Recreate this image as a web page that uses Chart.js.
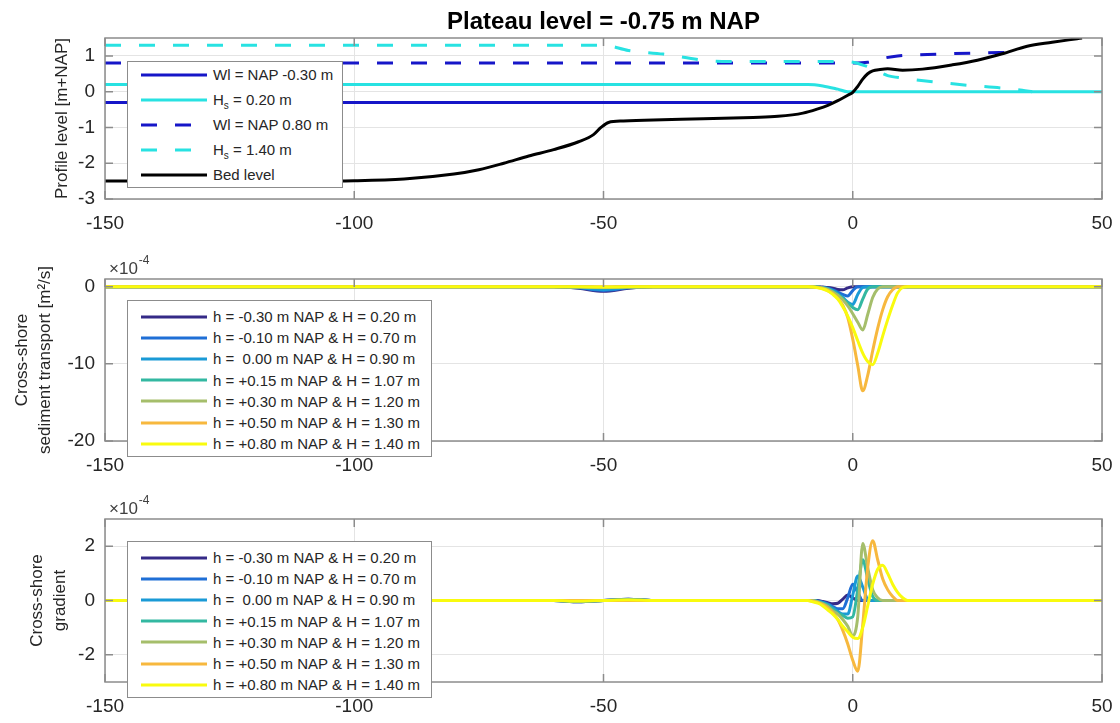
<!DOCTYPE html>
<html>
<head>
<meta charset="utf-8">
<title>Plateau level profile</title>
<script src="https://cdn.jsdelivr.net/npm/chart.js@4.4.1/dist/chart.umd.min.js"></script>
<style>
  body { margin: 0; background: #fff; font-family: "Liberation Sans", Arial, sans-serif; }
  #wrap { position: relative; width: 1120px; height: 723px; overflow: hidden; }
  canvas { position: absolute; left: 0; }
  .legend { position: absolute; left: 127px; background: #fff; border: 1px solid #8c8c8c; box-sizing: border-box; color: #262626; font-size: 15px; }
  .legend .row { display: flex; align-items: center; white-space: pre; }
  .legend svg { margin-left: 13px; margin-right: 6px; flex: none; }
  .legend sub { font-size: 10px; vertical-align: -4px; line-height: 0; }
</style>
</head>
<body>
<div id="wrap">
  <canvas id="profile" width="1120" height="235" style="top:0"></canvas>
  <canvas id="transport" width="1120" height="240" style="top:235px"></canvas>
  <canvas id="gradient" width="1120" height="248" style="top:475px"></canvas>
  <div class="legend" id="leg1" style="top:61px;width:216px;height:127px"></div>
  <div class="legend" id="leg2" style="top:300px;width:305px;height:157px;padding-top:5px"></div>
  <div class="legend" id="leg3" style="top:541px;width:305px;height:157px;padding-top:5px"></div>
</div>
<script>
// x axis, shared by the three panels
const xTicks = [-150, -100, -50, 0, 50];

// panel 1: profile and water levels
const profileTicks = [-3, -2, -1, 0, 1];
const profileLabels = ['Wl = NAP -0.30 m', 'Hs = 0.20 m', 'Wl = NAP 0.80 m', 'Hs = 1.40 m', 'Bed level'];
const wlLowX = [-150, -4.2];
const wlLowY = [-0.3, -0.3];
const hsLowX = [-150, -9, -6, -3, -1, 50];
const hsLowY = [0.2, 0.2, 0.16, 0.07, 0, 0];
const wlHighX = [-150, 0, 3, 6, 9, 15, 25, 31.5];
const wlHighY = [0.8, 0.8, 0.82, 0.93, 1.0, 1.04, 1.08, 1.1];
const hsHighX = [-150, -50, -45, -38, -30, -25, -1, 3, 7, 10, 16, 23, 30, 34, 36];
const hsHighY = [1.3, 1.3, 1.15, 1.05, 0.88, 0.84, 0.84, 0.7, 0.45, 0.38, 0.28, 0.18, 0.1, 0.04, 0];
const bedX = [-150, -110, -100, -90, -80, -75, -70, -65, -60, -55, -52, -50.5, -49, -46, -40, -30, -20, -15, -10, -7, -5, -3, -1, 0, 1, 2, 3, 4, 5.5, 7, 10, 14, 20, 25, 30, 35, 40, 45, 46];
const bedY = [-2.5, -2.5, -2.49, -2.44, -2.3, -2.18, -2.0, -1.8, -1.62, -1.4, -1.2, -1.0, -0.86, -0.82, -0.79, -0.76, -0.72, -0.69, -0.6, -0.48, -0.38, -0.25, -0.1, -0.02, 0.15, 0.35, 0.5, 0.58, 0.62, 0.64, 0.6, 0.63, 0.75, 0.88, 1.06, 1.27, 1.38, 1.48, 1.5];

// panels 2 and 3: one run per water level / wave height (values x 1e-4)
const runLabels = [
  'h = -0.30 m NAP & H = 0.20 m',
  'h = -0.10 m NAP & H = 0.70 m',
  'h =  0.00 m NAP & H = 0.90 m',
  'h = +0.15 m NAP & H = 1.07 m',
  'h = +0.30 m NAP & H = 1.20 m',
  'h = +0.50 m NAP & H = 1.30 m',
  'h = +0.80 m NAP & H = 1.40 m'
];
const runColors = ['#352a87', '#1f6fd6', '#1a9ad6', '#33b8a1', '#a5be6b', '#f7b83e', '#f9fb0e'];
const runX = [-150, -60, -55, -50, -45, -40, -9, -8, -7, -6, -5, -4, -3, -2, -1, 0, 1, 2, 3, 4, 5, 6, 7, 8, 9, 10, 11, 12, 50];

const transportTicks = [-20, -10, 0];
const qNavy   = [0, 0, -0.2, -0.6, -0.2, 0, 0, 0, 0, -0.05, -0.1, -0.2, -0.35, -0.4, -0.15, 0, 0, 0, 0, 0, 0, 0, 0, 0, 0, 0, 0, 0, 0];
const qBlue   = [0, 0, -0.15, -0.5, -0.15, 0, 0, 0, -0.05, -0.1, -0.2, -0.4, -0.7, -1.0, -1.2, -0.5, 0, 0, 0, 0, 0, 0, 0, 0, 0, 0, 0, 0, 0];
const qLight  = [0, 0, -0.1, -0.35, -0.1, 0, 0, 0, -0.05, -0.1, -0.25, -0.5, -0.9, -1.4, -2.0, -2.3, -1.0, -0.1, 0, 0, 0, 0, 0, 0, 0, 0, 0, 0, 0];
const qTeal   = [0, 0, 0, -0.15, 0, 0, 0, 0, -0.05, -0.15, -0.3, -0.6, -1.0, -1.5, -2.1, -2.7, -3.0, -1.6, -0.3, 0, 0, 0, 0, 0, 0, 0, 0, 0, 0];
const qOlive  = [0, 0, 0, -0.1, 0, 0, 0, 0, -0.05, -0.15, -0.35, -0.7, -1.1, -1.7, -2.5, -3.5, -4.6, -5.6, -3.6, -1.4, -0.3, 0, 0, 0, 0, 0, 0, 0, 0];
const qOrange = [0, 0, 0, 0, 0, 0, 0, -0.05, -0.1, -0.25, -0.5, -0.9, -1.5, -2.4, -4.0, -6.8, -10.2, -13.5, -11.5, -8.3, -5.4, -3.0, -1.3, -0.4, 0, 0, 0, 0, 0];
const qYellow = [0, 0, 0, -0.05, 0, 0, 0, -0.05, -0.15, -0.3, -0.55, -1.0, -1.6, -2.6, -3.8, -5.3, -7.0, -8.6, -9.7, -10.1, -8.6, -6.4, -4.3, -2.4, -0.8, -0.1, 0, 0, 0];

const gradientTicks = [-2, 0, 2];
const gNavy   = [0, 0, -0.05, 0, 0.05, 0, 0, 0, 0, -0.04, -0.08, -0.12, -0.1, 0.05, 0.2, 0.1, 0, 0, 0, 0, 0, 0, 0, 0, 0, 0, 0, 0, 0];
const gBlue   = [0, 0, -0.05, 0, 0.05, 0, 0, 0, -0.03, -0.06, -0.12, -0.22, -0.3, -0.3, 0.1, 0.6, 0.3, 0, 0, 0, 0, 0, 0, 0, 0, 0, 0, 0, 0];
const gLight  = [0, 0, -0.03, 0, 0.03, 0, 0, 0, -0.03, -0.08, -0.15, -0.28, -0.4, -0.5, -0.5, 0.2, 0.9, 0.5, 0.05, 0, 0, 0, 0, 0, 0, 0, 0, 0, 0];
const gTeal   = [0, 0, 0, 0, 0, 0, 0, 0, -0.04, -0.1, -0.18, -0.32, -0.45, -0.55, -0.65, -0.6, 0.4, 1.5, 0.8, 0.15, 0, 0, 0, 0, 0, 0, 0, 0, 0];
const gOlive  = [0, 0, 0, 0, 0, 0, 0, 0, -0.05, -0.12, -0.22, -0.38, -0.5, -0.7, -0.95, -1.3, -0.6, 2.1, 1.2, 0.4, 0.1, 0, 0, 0, 0, 0, 0, 0, 0];
const gOrange = [0, 0, 0, 0, 0, 0, 0, -0.03, -0.08, -0.15, -0.28, -0.45, -0.7, -1.1, -1.6, -2.2, -2.6, -0.9, 1.2, 2.2, 1.5, 0.8, 0.4, 0.15, 0, 0, 0, 0, 0];
const gYellow = [0, 0, -0.03, 0, 0.03, 0, 0, -0.05, -0.1, -0.2, -0.35, -0.5, -0.7, -0.95, -1.15, -1.35, -1.4, -1.0, -0.2, 0.6, 1.15, 1.3, 1.0, 0.6, 0.3, 0.1, 0, 0, 0];

const transportRuns = [qNavy, qBlue, qLight, qTeal, qOlive, qOrange, qYellow];
const gradientRuns = [gNavy, gBlue, gLight, gTeal, gOlive, gOrange, gYellow];

Chart.defaults.font.family = '"Liberation Sans", Arial, sans-serif';
Chart.defaults.color = '#262626';

const BLUE = '#1616c8';
const CYAN = '#28e2e2';
const DASH = [16, 18];
const GRID = '#e4e4e4';
const FRAME = '#8c8c8c';

const pts = (xs, ys) => xs.map((x, i) => ({ x, y: ys[i] }));

// box around the axes, inward ticks and the "x10^-4" multiplier, MATLAB style
const framePlugin = {
  id: 'frame',
  afterDatasetsDraw(chart, args, opts) {
    const { ctx, chartArea: a, scales: { x, y } } = chart;
    ctx.save();
    ctx.strokeStyle = FRAME;
    ctx.lineWidth = 1.5;
    ctx.beginPath();
    x.ticks.forEach(t => {
      const px = x.getPixelForValue(t.value);
      ctx.moveTo(px, a.bottom); ctx.lineTo(px, a.bottom - 8);
      ctx.moveTo(px, a.top); ctx.lineTo(px, a.top + 8);
    });
    y.ticks.forEach(t => {
      const py = y.getPixelForValue(t.value);
      ctx.moveTo(a.left, py); ctx.lineTo(a.left + 8, py);
      ctx.moveTo(a.right, py); ctx.lineTo(a.right - 8, py);
    });
    ctx.stroke();
    ctx.strokeRect(a.left, a.top, a.width, a.height);
    if (opts.exponent) {
      ctx.fillStyle = '#404040';
      ctx.textBaseline = 'alphabetic';
      ctx.font = '17px "Liberation Sans", Arial, sans-serif';
      ctx.fillText('×10', a.left + 4, a.top - 5);
      const w = ctx.measureText('×10').width;
      ctx.font = '12px "Liberation Sans", Arial, sans-serif';
      ctx.fillText(opts.exponent, a.left + 4 + w + 1, a.top - 15);
    }
    ctx.restore();
  }
};

const makeChart = (id, cfg) => new Chart(document.getElementById(id), {
  type: 'line',
  data: { datasets: cfg.datasets.map((d, i) => ({ ...d, order: -i })) },
  options: {
    responsive: false,
    animation: false,
    devicePixelRatio: 1,
    layout: { padding: { top: cfg.padTop, right: 18, left: 0, bottom: 0 } },
    elements: {
      point: { radius: 0 },
      line: { borderWidth: 3, cubicInterpolationMode: 'monotone', borderCapStyle: 'butt' }
    },
    plugins: {
      legend: { display: false },
      tooltip: { enabled: false },
      title: cfg.title ? {
        display: true,
        text: cfg.title,
        fullSize: false,
        color: '#000',
        font: { size: 24, weight: 'bold' },
        padding: { top: 8, bottom: 1.2 }
      } : { display: false },
      frame: { exponent: cfg.exponent }
    },
    scales: {
      x: {
        type: 'linear',
        min: -150,
        max: 50,
        afterBuildTicks: s => { s.ticks = xTicks.map(v => ({ value: v })); },
        // fixed axis height; edge labels may overhang, the plot box keeps its width
        afterFit: s => { s.height = cfg.xAxisH; s.paddingLeft = 0; s.paddingRight = 0; },
        grid: { color: GRID, drawTicks: false },
        border: { display: false },
        ticks: { font: { size: 19 }, color: '#262626', padding: 13, maxRotation: 0, autoSkip: false }
      },
      y: {
        min: cfg.yMin,
        max: cfg.yMax,
        afterBuildTicks: s => { s.ticks = cfg.yTicks.map(v => ({ value: v })); },
        afterFit: s => { s.width = 105; },
        grid: { color: GRID, drawTicks: false },
        border: { display: false },
        ticks: { font: { size: 19 }, color: '#262626', padding: 10, autoSkip: false },
        title: {
          display: true,
          text: cfg.yTitle,
          color: '#262626',
          font: { size: 17, lineHeight: 23 / 17 },
          padding: { top: cfg.titlePad, bottom: 0 }
        }
      }
    }
  },
  plugins: [framePlugin]
});

// HTML legend built from the chart's own datasets
const buildLegend = (elId, chart, rowH) => {
  const el = document.getElementById(elId);
  chart.data.datasets.forEach(d => {
    const row = document.createElement('div');
    row.className = 'row';
    row.style.height = rowH + 'px';
    const dash = d.borderDash ? ` stroke-dasharray="${d.borderDash.join(' ')}"` : '';
    const text = d.label.replace(/^Hs/, 'H<sub>s</sub>');
    row.innerHTML = `<svg width="66" height="10"><line x1="0" y1="5" x2="66" y2="5" stroke="${d.borderColor}" stroke-width="3"${dash}/></svg><span>${text}</span>`;
    el.appendChild(row);
  });
};

const profileChart = makeChart('profile', {
  title: 'Plateau level = -0.75 m NAP',
  padTop: 0,
  xAxisH: 36,
  yMin: -3, yMax: 1.5, yTicks: profileTicks,
  yTitle: 'Profile level [m+NAP]',
  titlePad: 50.5,
  datasets: [
    { label: profileLabels[0], data: pts(wlLowX, wlLowY), borderColor: BLUE },
    { label: profileLabels[1], data: pts(hsLowX, hsLowY), borderColor: CYAN },
    { label: profileLabels[2], data: pts(wlHighX, wlHighY), borderColor: BLUE, borderDash: DASH },
    { label: profileLabels[3], data: pts(hsHighX, hsHighY), borderColor: CYAN, borderDash: DASH },
    { label: profileLabels[4], data: pts(bedX, bedY), borderColor: '#000' }
  ]
});

const transportChart = makeChart('transport', {
  padTop: 44,
  xAxisH: 34,
  yMin: -20, yMax: 1, yTicks: transportTicks,
  yTitle: ['Cross-shore', 'sediment transport [m²/s]'],
  titlePad: 10.5,
  exponent: '-4',
  datasets: transportRuns.map((ys, i) => ({ label: runLabels[i], data: pts(runX, ys), borderColor: runColors[i] }))
});

const gradientChart = makeChart('gradient', {
  padTop: 44,
  xAxisH: 41,
  yMin: -3, yMax: 3, yTicks: gradientTicks,
  yTitle: ['Cross-shore', 'gradient'],
  titlePad: 25.5,
  exponent: '-4',
  datasets: gradientRuns.map((ys, i) => ({ label: runLabels[i], data: pts(runX, ys), borderColor: runColors[i] }))
});

buildLegend('leg1', profileChart, 25);
buildLegend('leg2', transportChart, 21.2);
buildLegend('leg3', gradientChart, 21.2);
</script>
</body>
</html>
